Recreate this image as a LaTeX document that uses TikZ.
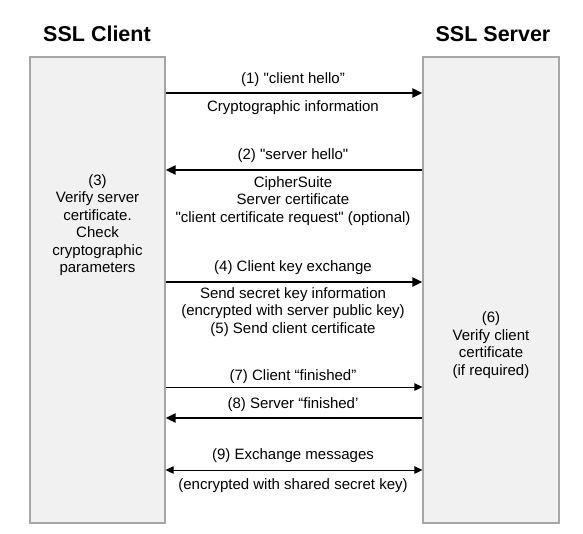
\documentclass[tikz,border=0pt]{standalone}
\usepackage{fontspec}
\setsansfont{Liberation Sans}
\usetikzlibrary{arrows.meta,positioning}

\begin{document}
\begin{tikzpicture}[x=1pt, y=-1pt, font=\sffamily\fontsize{15}{17.5}\selectfont,
    side/.style={draw=gray!70, line width=1.2pt, fill=gray!11, inner sep=0pt,
                 minimum width=135pt, minimum height=466pt},
    title/.style={font=\sffamily\bfseries\fontsize{21.5}{24}\selectfont},
    msg/.style={align=center, inner sep=0pt},
    heavy/.style={line width=2.2pt, -{Triangle[length=10pt,width=9pt]}},
    light/.style={line width=1pt, -{Triangle[length=8pt,width=7.5pt]}},
    twoway/.style={line width=1pt, {Triangle[length=8pt,width=7.5pt]}-{Triangle[length=8pt,width=7.5pt]}}]
  \useasboundingbox (0,0) rectangle (583,533);

  % the two parties
  \node[title] (tclient) at (97,34) {SSL Client};
  \node[title] (tserver) at (493,34) {SSL Server};
  \node[side] (client) at (97.5,290) {};
  \node[side, minimum width=136pt] (server) at (491,290) {};

  \node[msg] (verify3) at (97.5,225)
    {(3)\\Verify server\\certificate.\\Check\\cryptographic\\parameters};
  \node[msg] (verify6) at (491,345)
    {(6)\\Verify client\\certificate\\(if required)};

  % Step 1: client hello
  \coordinate (y1) at (0,93);
  \node[msg] (m1) at (293,80) {(1) \textquotedbl client hello”};
  \node[msg] (d1) at (293,108) {Cryptographic information};
  \draw[heavy] (client.east |- y1) -- (server.west |- y1);

  % Step 2: server hello
  \coordinate (y2) at (0,170);
  \node[msg] (m2) at (293,156) {(2) \textquotedbl server hello\textquotedbl};
  \node[msg] (d2) at (293,201)
    {CipherSuite\\Server certificate\\\textquotedbl client certificate request\textquotedbl{} (optional)};
  \draw[heavy] (server.west |- y2) -- (client.east |- y2);

  % Step 4 and 5: key exchange
  \coordinate (y4) at (0,282);
  \node[msg] (m4) at (293,268) {(4) Client key exchange};
  \node[msg] (d4) at (293,312)
    {Send secret key information\\(encrypted with server public key)\\(5) Send client certificate};
  \draw[heavy] (client.east |- y4) -- (server.west |- y4);

  % Step 7 and 8: finished
  \coordinate (y7) at (0,387);
  \node[msg] (m7) at (293,377) {(7) Client “finished”};
  \draw[light] (client.east |- y7) -- (server.west |- y7);

  \coordinate (y8) at (0,418);
  \node[msg] (m8) at (293,405) {(8) Server “finished’};
  \draw[heavy] (server.west |- y8) -- (client.east |- y8);

  % Step 9: exchange messages
  \coordinate (y9) at (0,470);
  \node[msg] (m9) at (293,456) {(9) Exchange messages};
  \node[msg] (d9) at (293,486) {(encrypted with shared secret key)};
  \draw[twoway] (client.east |- y9) -- (server.west |- y9);
\end{tikzpicture}
\end{document}
